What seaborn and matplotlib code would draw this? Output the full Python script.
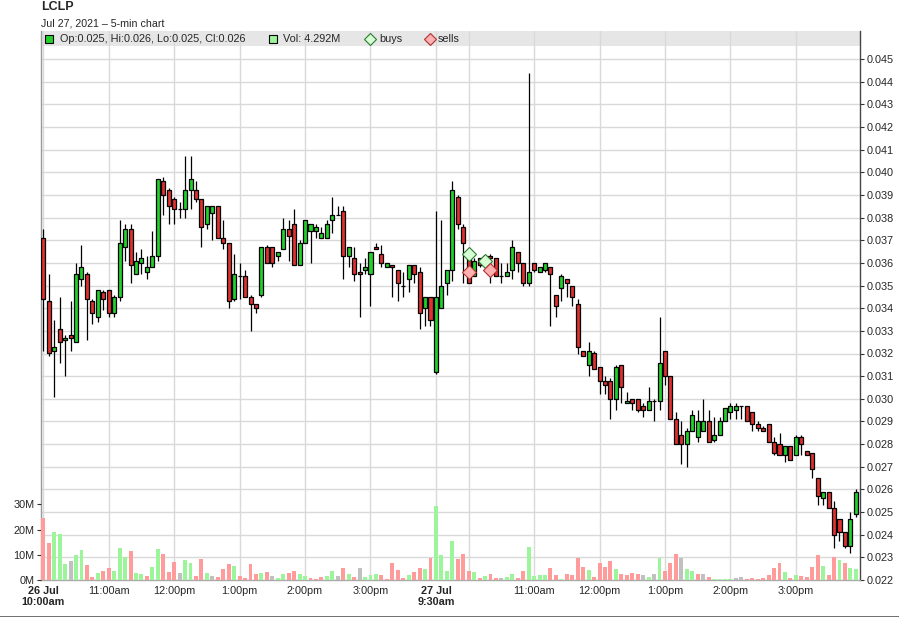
import numpy as np
import pandas as pd
import seaborn as sns
import matplotlib
matplotlib.use("Agg")
from matplotlib import pyplot as plt
from matplotlib.lines import Line2D
from matplotlib.patches import Rectangle
from matplotlib.ticker import FormatStrFormatter

# 5-min bars: 26 Jul 10:00-15:55 (72 bars), 27 Jul 9:30-15:55 (78 bars)
opens = [
    .0371, .0343, .0321, .0331, .0326, .0328, .0325, .0353, .0355, .0343,
    .0336, .0347, .0348, .0338, .0345, .0367, .0375, .0355, .0360, .0356,
    .0358, .0363, .0396, .0392, .0388, .0384, .0384, .0392, .0392, .0388,
    .0377, .0382, .0385, .0371, .0369, .0344, .0354, .0354, .0345, .0342,
    .0346, .0367, .0367, .0363, .0366, .0375, .0377, .0359, .0369, .0374,
    .0374, .0371, .0371, .0379, .0381, .0383, .0363, .0362, .0356, .0357,
    .0355, .0367, .0364, .0358, .0359, .0357, .0350, .0353, .0359, .0356,
    .0340, .0345,
    .0312, .0340, .0351, .0357, .0389, .0376, .0364, .0354, .0362, .0362,
    .0363, .0362, .0354, .0354, .0357, .0365, .0360, .0351, .0360, .0356,
    .0357, .0358, .0346, .0349, .0353, .0350, .0342, .0321, .0315, .0320,
    .0314, .0308, .0308, .0300, .0315, .0298, .0300, .0300, .0297, .0295,
    .0299, .0299, .0321, .0310, .0291, .0284, .0280, .0286, .0283, .0286,
    .0290, .0282, .0284, .0290, .0294, .0295, .0297, .0297, .0294, .0289,
    .0287, .0289, .0281, .0280, .0275, .0279, .0275, .0283, .0277, .0276,
    .0265, .0256, .0259, .0252, .0247, .0241, .0235, .0249,
]
highs = [
    .0375, .0355, .0335, .0345, .0328, .0343, .0360, .0368, .0356, .0344,
    .0348, .0348, .0348, .0346, .0379, .0377, .0377, .0365, .0366, .0363,
    .0374, .0397, .0398, .0393, .0389, .0387, .0407, .0407, .0396, .0388,
    .0385, .0385, .0385, .0379, .0369, .0364, .0360, .0357, .0346, .0342,
    .0367, .0368, .0367, .0365, .0380, .0379, .0384, .0370, .0379, .0377,
    .0377, .0376, .0379, .0389, .0385, .0385, .0367, .0367, .0360, .0362,
    .0365, .0369, .0368, .0360, .0359, .0357, .0356, .0359, .0359, .0358,
    .0345, .0345,
    .0383, .0379, .0357, .0396, .0390, .0377, .0366, .0362, .0362, .0363,
    .0364, .0362, .0360, .0360, .0370, .0365, .0360, .0444, .0360, .0358,
    .0360, .0358, .0346, .0355, .0353, .0350, .0344, .0321, .0325, .0321,
    .0314, .0310, .0309, .0315, .0315, .0303, .0300, .0300, .0298, .0305,
    .0300, .0336, .0321, .0310, .0294, .0290, .0287, .0295, .0295, .0300,
    .0295, .0292, .0292, .0296, .0298, .0298, .0297, .0297, .0294, .0290,
    .0288, .0289, .0283, .0285, .0279, .0279, .0284, .0284, .0277, .0276,
    .0265, .0259, .0259, .0255, .0247, .0241, .0250, .0260,
]
lows = [
    .0321, .0319, .0301, .0316, .0310, .0321, .0325, .0350, .0326, .0333,
    .0334, .0339, .0336, .0336, .0343, .0361, .0351, .0355, .0355, .0353,
    .0358, .0361, .0381, .0377, .0377, .0380, .0380, .0384, .0387, .0367,
    .0375, .0370, .0371, .0366, .0340, .0343, .0344, .0345, .0330, .0338,
    .0345, .0360, .0358, .0361, .0366, .0361, .0359, .0359, .0369, .0360,
    .0371, .0371, .0371, .0373, .0381, .0353, .0358, .0352, .0336, .0355,
    .0341, .0366, .0358, .0358, .0345, .0343, .0345, .0347, .0351, .0331,
    .0332, .0332,
    .0311, .0340, .0346, .0352, .0375, .0351, .0351, .0354, .0358, .0359,
    .0351, .0354, .0351, .0354, .0353, .0356, .0350, .0350, .0356, .0356,
    .0356, .0332, .0336, .0343, .0345, .0341, .0320, .0319, .0310, .0313,
    .0302, .0302, .0291, .0295, .0298, .0298, .0295, .0294, .0292, .0295,
    .0290, .0295, .0306, .0291, .0280, .0271, .0270, .0286, .0281, .0286,
    .0281, .0281, .0284, .0290, .0291, .0291, .0291, .0290, .0286, .0286,
    .0286, .0281, .0275, .0275, .0272, .0273, .0275, .0275, .0275, .0265,
    .0253, .0253, .0252, .0234, .0237, .0234, .0232, .0248,
]
closes = [
    .0344, .0320, .0323, .0325, .0327, .0327, .0355, .0358, .0344, .0338,
    .0348, .0344, .0338, .0345, .0369, .0375, .0359, .0361, .0362, .0358,
    .0363, .0397, .0390, .0385, .0384, .0384, .0392, .0397, .0388, .0376,
    .0385, .0385, .0371, .0369, .0343, .0355, .0354, .0345, .0342, .0340,
    .0367, .0360, .0360, .0365, .0375, .0372, .0359, .0369, .0379, .0377,
    .0376, .0373, .0377, .0381, .0381, .0363, .0367, .0355, .0355, .0358,
    .0365, .0366, .0360, .0360, .0358, .0351, .0350, .0359, .0355, .0338,
    .0345, .0335,
    .0345, .0350, .0357, .0392, .0377, .0369, .0351, .0361, .0359, .0363,
    .0362, .0354, .0354, .0356, .0367, .0360, .0351, .0356, .0357, .0358,
    .0360, .0355, .0341, .0354, .0351, .0345, .0323, .0319, .0321, .0313,
    .0308, .0306, .0300, .0314, .0305, .0299, .0298, .0295, .0295, .0299,
    .0299, .0316, .0310, .0291, .0280, .0280, .0286, .0293, .0290, .0290,
    .0281, .0284, .0290, .0296, .0297, .0297, .0297, .0290, .0289, .0287,
    .0286, .0281, .0276, .0275, .0279, .0273, .0283, .0280, .0275, .0269,
    .0257, .0259, .0252, .0240, .0241, .0235, .0247, .0259,
]
# volume in millions
volumes_m = [
    24.6, 14.8, 19.1, 18.4, 6.4, 7.5, 9.9, 11.9, 6.0, 1.2,
    2.8, 3.6, 4.8, 3.6, 12.7, 9.1, 11.5, 2.8, 2.4, 1.6,
    5.2, 12.3, 10.3, 3.2, 7.2, 2.8, 7.9, 6.8, 1.6, 8.3,
    2.8, 1.6, 1.2, 4.4, 6.4, 5.6, 1.6, 0.8, 6.4, 2.4,
    2.8, 3.2, 1.6, 0.8, 2.4, 2.8, 3.6, 2.4, 1.6, 0.8,
    0.4, 1.2, 1.6, 3.6, 1.6, 4.8, 2.4, 1.2, 4.8, 1.2,
    2.0, 2.4, 2.0, 0.4, 6.8, 4.0, 0.8, 2.0, 3.2, 4.8,
    4.4, 8.7,
    29.4, 9.9, 3.6, 15.5, 8.3, 10.3, 3.6, 3.2, 0.8, 1.6,
    2.4, 0.8, 0.8, 1.2, 2.4, 0.8, 3.6, 13.1, 1.6, 2.0,
    2.0, 4.8, 2.0, 0.4, 2.4, 2.0, 8.7, 5.2, 4.0, 1.2,
    6.8, 5.2, 7.5, 4.4, 2.4, 2.0, 2.8, 2.4, 2.0, 1.2,
    2.4, 8.7, 3.6, 6.8, 10.3, 8.7, 4.4, 3.6, 2.4, 2.4,
    1.2, 0.4, 0.4, 0.4, 0.4, 0.8, 1.2, 0.4, 0.8, 0.3,
    0.8, 2.0, 4.8, 6.8, 3.2, 0.8, 2.0, 1.6, 1.2, 5.2,
    9.9, 5.6, 2.0, 9.1, 7.9, 6.8, 4.8, 4.292,
]
# u = up, d = down, f = flat (close vs previous close)
vol_dir = list(
    "dduuufuudd" "udduuuduud" "uudddfuudd" "ufdddudddd"
    "udfuudduud" "dduufdudfu" "uudddddudd" "ud"
    "uuuudddudu" "ddfuudduuu" "udduddddud" "ddduddddfu"
    "fudddfuudf" "duuuuffddd" "ddddududdd" "dudduduu"
)

buy_bars = [78, 81]
buy_prices = [.0364, .0361]
sell_bars = [78, 82]
sell_prices = [.0356, .0357]

day1 = pd.date_range("2021-07-26 10:00", periods=72, freq="5min")
day2 = pd.date_range("2021-07-27 09:30", periods=78, freq="5min")
times = day1.append(day2)

sns.set_style("white")
plt.rcParams["font.family"] = ["Liberation Sans", "DejaVu Sans"]

GREEN = "#22d12a"
RED = "#e0302f"
vol_palette = {"u": "#9cf59a", "d": "#ff9b9b", "f": "#c0c0c0"}

W, H = 899, 617
fig = plt.figure(figsize=(W / 100, H / 100), dpi=100)


def fx(px):
    return px / W


def fy(py):
    return 1 - py / H


ax = fig.add_axes([fx(41), fy(580), fx(860) - fx(41), fy(31) - fy(580)])
ax.set_axisbelow(True)
axv = ax.twinx()  # volume, drawn above the price grid

n = len(times)
bars = np.arange(n)
o = np.array(opens)
c = np.array(closes)

# legend band at the top of the plot
band_frac = (580 - 46) / (580 - 31)
ax.add_patch(Rectangle((0, band_frac), 1, 1 - band_frac, transform=ax.transAxes,
                       facecolor="#e6e6e6", edgecolor="none", zorder=0.3))

# candles
ax.vlines(bars, lows, highs, color="black", lw=0.9, zorder=2)
body_col = [GREEN if cc > oo else RED for oo, cc in zip(o, c)]
ax.bar(bars, np.abs(c - o), bottom=np.minimum(o, c), width=0.74,
       color=body_col, edgecolor="black", linewidth=0.9, zorder=3)

ax.plot(buy_bars, buy_prices, ls="none", marker="D", ms=7,
        mfc="#d6ffd6", mec="#2b7a2b", mew=0.8, zorder=4)
ax.plot(sell_bars, sell_prices, ls="none", marker="D", ms=7,
        mfc="#ffb0b0", mec="#b03030", mew=0.8, zorder=4)


# x ticks at each hour and day start
def hhmm(t):
    return t.strftime("%I:%M%p").lstrip("0").lower()


tick_pos, tick_lab, bold = [], [], []
day_start = 0
for i, t in enumerate(times):
    if i == 0 or times[i - 1].date() != t.date():
        day_start = i
        tick_pos.append(i)
        tick_lab.append(t.strftime("%d %b") + "\n" + hhmm(t))
        bold.append(True)
    elif t.minute == 0:
        tick_pos.append(i)
        tick_lab.append("" if i - day_start < 8 else hhmm(t))
        bold.append(False)

ax.set_xticks(tick_pos)
ax.set_xticklabels(tick_lab, fontsize=7.8)
for lab, b in zip(ax.get_xticklabels(), bold):
    if b:
        lab.set_fontweight("bold")
ax.tick_params(axis="x", length=2, pad=2, color="#555555")

ax.set_yticks(np.arange(22, 46) / 1000)
ax.yaxis.set_major_formatter(FormatStrFormatter("%.3f"))
ax.set_ylim(0.022, 0.022 + 549 / 22650)
ax.grid(True, color="#d9d9d9", lw=1)

ax.spines["top"].set_visible(False)
ax.spines["left"].set_color("#999999")
ax.spines["bottom"].set_color("#aaaaaa")
ax.spines["right"].set_color("#444444")
for s in ax.spines.values():
    s.set_linewidth(1)

# volume bars
vol_df = pd.DataFrame({"bar": bars, "vol": np.array(volumes_m) * 1e6,
                       "dir": vol_dir})
sns.barplot(data=vol_df, x="bar", y="vol", hue="dir", palette=vol_palette,
            native_scale=True, dodge=False, width=0.72, saturation=1,
            errorbar=None, legend=False, linewidth=0, ax=axv)
axv.grid(False)
axv.set_xlabel("")
axv.set_ylabel("")
axv.set_ylim(0, 218e6)
axv.set_yticks([0, 10e6, 20e6, 30e6], ["0M", "10M", "20M", "30M"])
for s in axv.spines.values():
    s.set_visible(False)

# price on the right, volume on the left
ax.yaxis.tick_right()
ax.yaxis.set_label_position("right")
ax.tick_params(axis="y", right=True, left=False, labelright=True, labelleft=False,
               length=3, pad=1.5, labelsize=7.8, color="#333333")
axv.yaxis.tick_left()
axv.tick_params(axis="y", left=True, right=False, labelleft=True, labelright=False,
                length=3, pad=1.5, labelsize=7.8, color="#333333")

ax.set_xlim(-0.42, 149.76)
axv.set_xlim(-0.42, 149.76)
ax.set_xlabel("")

# header
fig.text(fx(41), fy(7), "LCLP", fontsize=9, fontweight="bold", va="center")
fig.text(fx(41), fy(23), "Jul 27, 2021 \u2013 5-min chart", fontsize=7.7, va="center")

ly = fy(38.5)
fig.add_artist(Line2D([fx(49)], [ly], marker="s", ms=6, mfc=GREEN, mec="black",
                      mew=0.8, transform=fig.transFigure))
fig.text(fx(60), ly, "Op:0.025, Hi:0.026, Lo:0.025, Cl:0.026", fontsize=7.8, va="center")
fig.add_artist(Line2D([fx(272.5)], [ly], marker="s", ms=6, mfc="#9cf59a", mec="black",
                      mew=0.8, transform=fig.transFigure))
fig.text(fx(283), ly, f"Vol: {volumes_m[-1]:.3f}M", fontsize=7.8, va="center")
fig.add_artist(Line2D([fx(370)], [ly], marker="D", ms=6, mfc="#d6ffd6", mec="#2b7a2b",
                      mew=0.8, transform=fig.transFigure))
fig.text(fx(379), ly, "buys", fontsize=7.8, va="center")
fig.add_artist(Line2D([fx(429.5)], [ly], marker="D", ms=6, mfc="#ffb0b0", mec="#b03030",
                      mew=0.8, transform=fig.transFigure))
fig.text(fx(438), ly, "sells", fontsize=7.8, va="center")

fig.add_artist(Line2D([0, 1], [fy(616.5)] * 2, color="#555555", lw=1.2,
                      transform=fig.transFigure))

fig.savefig("out.png", dpi=100)
